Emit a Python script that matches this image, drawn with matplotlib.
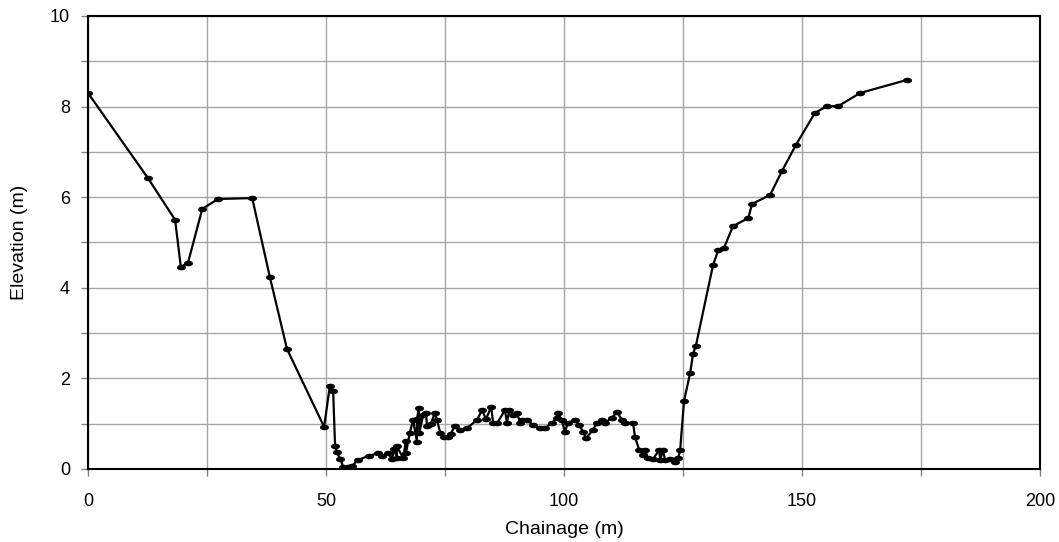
import numpy as np
import matplotlib.pyplot as plt
from matplotlib.path import Path

plt.rcParams['font.family'] = ['Liberation Sans', 'DejaVu Sans']

# Surveyed cross-section (chainage in m, elevation in m)
chainage = [0.0, 12.6, 18.3, 19.5, 21.0, 24.0, 27.3, 34.5, 38.2, 41.8,
            49.6, 50.8, 51.5, 51.9, 52.3, 53.0, 53.6, 54.6, 55.5, 56.7,
            59.0, 61.0, 61.8, 63.0, 63.9, 64.3, 64.9, 64.9, 66.2, 66.8,
            66.8, 67.6, 68.3, 69.1, 69.1, 69.5, 69.6, 70.4, 71.0, 71.2,
            72.0, 72.9, 73.3, 74.0, 74.8, 75.6, 76.2, 77.1, 78.2, 79.6,
            81.7, 82.8, 83.6, 84.7, 85.1, 86.0, 87.6, 88.0, 88.5, 89.3,
            90.1, 90.8, 91.2, 92.2, 93.5, 95.0, 96.0, 97.5, 98.5, 98.7,
            99.5, 100.2, 100.8, 102.3, 103.2, 104.0, 104.6, 106.0, 106.9, 108.0,
            108.6, 110.1, 111.1, 112.2, 112.8, 114.5, 114.9, 115.8, 116.6, 117.0,
            117.6, 118.7, 120.0, 120.2, 120.8, 121.2, 122.3, 123.3, 124.0, 124.4,
            125.2, 126.5, 127.1, 127.7, 131.3, 132.4, 133.6, 135.5, 138.7, 139.5,
            143.3, 145.8, 148.7, 152.7, 155.3, 157.6, 162.2, 172.1]
elevation = [8.30, 6.42, 5.50, 4.46, 4.55, 5.74, 5.96, 5.98, 4.24, 2.65,
             0.93, 1.83, 1.72, 0.51, 0.37, 0.22, 0.05, 0.04, 0.07, 0.20,
             0.29, 0.35, 0.29, 0.35, 0.22, 0.45, 0.25, 0.50, 0.24, 0.62,
             0.35, 0.80, 1.08, 0.60, 1.10, 1.35, 0.80, 1.19, 1.24, 0.95,
             1.00, 1.24, 1.08, 0.80, 0.71, 0.71, 0.78, 0.95, 0.86, 0.90,
             1.08, 1.30, 1.10, 1.37, 1.02, 1.02, 1.30, 1.02, 1.30, 1.20,
             1.24, 1.02, 1.08, 1.08, 0.97, 0.90, 0.90, 1.02, 1.13, 1.24,
             1.08, 0.82, 1.02, 1.08, 0.97, 0.82, 0.68, 0.85, 1.02, 1.08,
             1.02, 1.13, 1.26, 1.08, 1.02, 1.02, 0.71, 0.42, 0.31, 0.42,
             0.24, 0.22, 0.42, 0.20, 0.42, 0.20, 0.22, 0.15, 0.25, 0.42,
             1.50, 2.12, 2.54, 2.72, 4.50, 4.83, 4.88, 5.36, 5.54, 5.85,
             6.05, 6.58, 7.15, 7.86, 8.01, 8.01, 8.30, 8.59]

# flattened oval marker like the original
t = np.linspace(0, 2 * np.pi, 25)
oval = Path(np.column_stack([np.cos(t), 0.55 * np.sin(t)]))

fig = plt.figure(figsize=(10.59, 5.42), dpi=100)
ax = fig.add_axes([0.0831, 0.1347, 0.8990, 0.8358])

ax.plot(chainage, elevation, color='black', lw=1.6, marker=oval,
        markersize=5.5, markerfacecolor='black', markeredgecolor='black', zorder=3)

ax.set_xlim(0, 200)
ax.set_ylim(0, 10)
ax.set_xticks(np.arange(0, 201, 25))
ax.set_xticklabels([str(v) if v % 50 == 0 else '' for v in range(0, 201, 25)])
ax.set_yticks(np.arange(0, 11, 1))
ax.set_yticklabels([str(v) if v % 2 == 0 else '' for v in range(0, 11)])
ax.grid(True, color='#a6a6a6', lw=1.0)
ax.set_axisbelow(True)
for s in ax.spines.values():
    s.set_linewidth(1.5)
ax.tick_params(direction='out', length=5, width=1, color='#808080',
               labelsize=13, pad=12)
ax.tick_params(axis='y', pad=8)
ax.set_xlabel('Chainage (m)', fontsize=14, labelpad=8)
ax.set_ylabel('Elevation (m)', fontsize=14, labelpad=16)

fig.savefig('out.png', dpi=100)
